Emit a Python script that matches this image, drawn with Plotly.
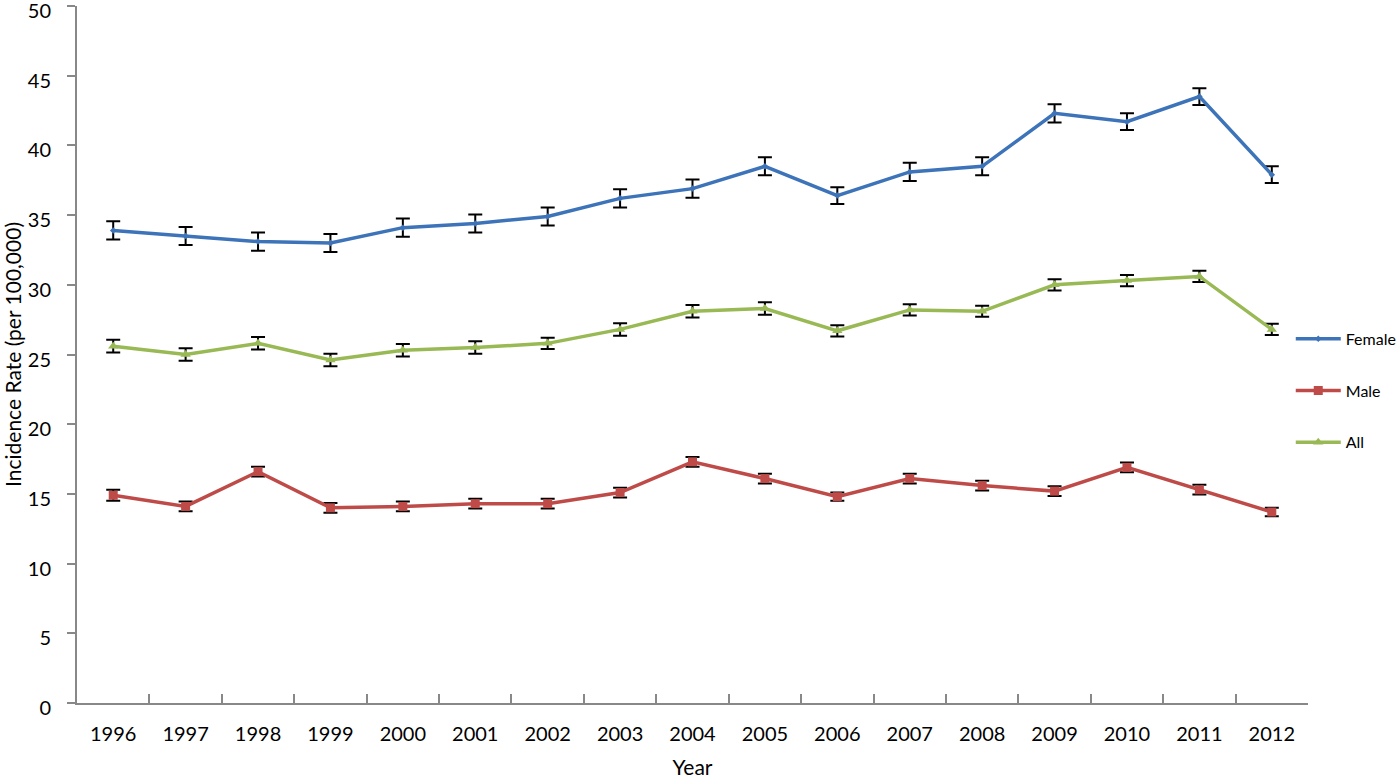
import plotly.graph_objects as go

years = [str(y) for y in range(1996, 2013)]

female = [33.9, 33.5, 33.1, 33.0, 34.1, 34.4, 34.9, 36.2, 36.9, 38.5, 36.4, 38.1, 38.5, 42.3, 41.7, 43.5, 37.9]
female_err = [0.65, 0.65, 0.65, 0.65, 0.65, 0.65, 0.65, 0.65, 0.65, 0.65, 0.6, 0.65, 0.65, 0.65, 0.6, 0.6, 0.6]

male = [14.9, 14.1, 16.6, 14.0, 14.1, 14.3, 14.3, 15.1, 17.3, 16.1, 14.8, 16.1, 15.6, 15.2, 16.9, 15.3, 13.7]
male_err = [0.4, 0.35, 0.35, 0.35, 0.35, 0.35, 0.35, 0.35, 0.35, 0.35, 0.3, 0.35, 0.35, 0.35, 0.35, 0.35, 0.3]

all_rate = [25.6, 25.0, 25.8, 24.6, 25.3, 25.5, 25.8, 26.8, 28.1, 28.3, 26.7, 28.2, 28.1, 30.0, 30.3, 30.6, 26.8]
all_err = [0.45, 0.45, 0.45, 0.45, 0.45, 0.45, 0.4, 0.45, 0.45, 0.45, 0.4, 0.4, 0.4, 0.4, 0.4, 0.4, 0.4]

y_ticks = list(range(0, 51, 5))

series = [
    ("Female", female, female_err, "#3d73b9", "diamond", 5),
    ("Male", male, male_err, "#be4b48", "square", 9),
    ("All", all_rate, all_err, "#98b954", "triangle-up", 9),
]

fig = go.Figure()
for name, vals, err, color, symbol, size in series:
    fig.add_trace(go.Scatter(
        x=years, y=vals, name=name, mode="lines+markers",
        line=dict(color=color, width=3.5),
        marker=dict(symbol=symbol, size=size, color=color),
        error_y=dict(type="data", array=err, color="black", thickness=2, width=7),
        legendgroup=name,
    ))

fig.update_layout(
    width=1400, height=779,
    paper_bgcolor="white", plot_bgcolor="white",
    margin=dict(l=77, r=92, t=6, b=76, autoexpand=False),
    font=dict(family="Lato, Open Sans, sans-serif", color="black"),
    legend=dict(x=0.986, y=0.448, xanchor="left", yanchor="middle",
                font=dict(size=16), tracegroupgap=28, itemwidth=45,
                bgcolor="rgba(0,0,0,0)"),
    xaxis=dict(
        type="category", range=[-0.5, 16.5], automargin=False,
        showline=True, linecolor="#888888", linewidth=2,
        ticks="inside", tickson="boundaries", ticklen=9, tickcolor="#888888", tickwidth=2,
        tickfont=dict(size=20), showgrid=False, ticklabelstandoff=12,
        title=dict(text="Year", font=dict(size=21), standoff=18),
    ),
    yaxis=dict(
        range=[0, 50], tickmode="array", tickvals=y_ticks, automargin=False,
        ticklabeloverflow="allow", ticklabelshift=5,
        showline=True, linecolor="#888888", linewidth=2,
        ticks="outside", ticklen=8, tickcolor="#888888", tickwidth=2,
        tickfont=dict(size=20), showgrid=False, zeroline=False, ticklabelstandoff=12,
        title=dict(text="Incidence Rate (per 100,000)", font=dict(size=21), standoff=12),
    ),
)

fig.write_html("out.html", config={"displayModeBar": False},
               post_script="document.body.style.margin='0';")
